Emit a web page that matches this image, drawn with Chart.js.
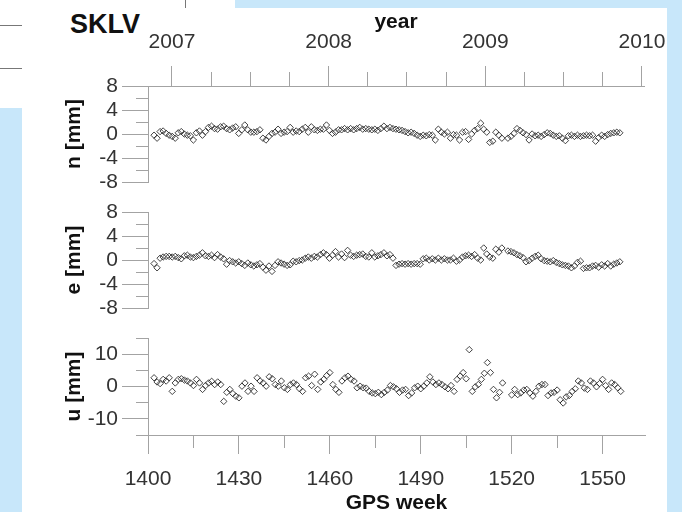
<!DOCTYPE html>
<html>
<head>
<meta charset="utf-8">
<script src="https://cdn.jsdelivr.net/npm/chart.js@4.4.1/dist/chart.umd.min.js"></script>
<style>
  body { margin: 0; width: 682px; height: 512px; background: #c8e7fa; position: relative; overflow: hidden;
         font-family: 'Liberation Sans', Arial, sans-serif; }
  .frag { position: absolute; left: 0; top: 0; width: 235px; height: 108px; background: #fff; }
  .panel { position: absolute; left: 22px; top: 8px; width: 645px; height: 504px; background: #fff; }
  .rule { position: absolute; background: #777; }
  canvas { position: absolute; left: 0; }
  #station { position: absolute; left: 70px; top: 11px; font-weight: bold; font-size: 27px; line-height: 26px; color: #111; }
</style>
</head>
<body>
<div class="frag"></div>
<div class="rule" style="left:0;top:25px;width:22px;height:1px"></div>
<div class="rule" style="left:0;top:68px;width:22px;height:1px"></div>
<div class="rule" style="left:185px;top:0;width:1px;height:8px"></div>
<div class="panel"></div>
<div id="station">SKLV</div>
<canvas id="cn" width="682" height="200" style="top:0"></canvas>
<canvas id="ce" width="682" height="140" style="top:190px"></canvas>
<canvas id="cu" width="682" height="192" style="top:320px"></canvas>

<script>
// GPS weeks 1402 .. 1556, one solution per week
const weeks = [];
for (let w = 1402; w <= 1556; w++) weeks.push(w);

// north residuals [mm]
const nVals = [
  -0.2, -0.7, 0.4, 0.5, 0.1, -0.2, -0.4, -0.7, 0.2, 0.4,
  0, -0.2, -0.3, -1.0, 0.2, 0.5, -0.2, 0.4, 1.1, 1.3,
  0.9, 0.8, 1.2, 1.3, 0.9, 0.7, 1.0, 1.2, 0.1, 0.7,
  1.5, 0.7, 0.3, 0.3, 0.4, 0.7, -0.7, -1.0, -0.4, 0.1,
  0.3, 0.8, 0.1, 0.3, 0.4, 1.1, 0.3, 0.5, 0.4, 0.8,
  1.1, 0.3, 1.2, 0.7, 0.6, 0.8, 0.8, 1.5, 0.6, 0.1,
  0.3, 0.7, 0.7, 0.9, 0.7, 0.9, 0.7, 0.9, 1.1, 0.8,
  0.9, 0.8, 0.7, 0.8, 0.6,
  0.9, 1.3, 0.9, 1.1, 0.9, 0.8, 0.7, 0.6, 0.4, 0.2,
  0.3, 0.1, -0.2, -0.4, -0.2, -0.3, -0.1, -0.2, -1.0, 0.8,
  0.3, 0, 0.3, -0.7, -0.1, -0.2, -1.0, 0.3, 0.4, -0.9,
  0, 0.6, 0.9, 1.8, 0.8, 0.3, -1.4, -1.2, 0.3, -0.2,
  -0.7, null, -0.7, -0.4, 0.1, 0.9, 0.6, 0.2, -0.1, -1.0,
  0, -0.3, -0.2, -0.4, -0.1, 0.2, 0.1, -0.2, -0.4, -0.3,
  -0.7, -1.1, -0.3, -0.2, -0.4, -0.2, -0.4, -0.3, -0.2, -0.3,
  -0.2, -1.2, -0.6, -0.2, -0.4, -0.1, 0.1, 0.2, 0.3, 0.2
];

// east residuals [mm]
const eVals = [
  -0.6, -1.3, 0.3, 0.5, 0.6, 0.6, 0.5, 0.6, 0.4, 0.2,
  0.7, 0.8, 0.5, 0.4, 0.6, 0.8, 1.2, 0.7, 0.6, 0.8,
  0.4, 0.9, 0.5, 0.2, -0.7, -0.1, -0.3, -0.5, -0.3, -0.6,
  -0.9, -0.5, -0.8, -1.0, -0.8, -0.6, -1.2, -1.7, -1.0, -1.9,
  -0.9, -0.3, -0.5, -0.7, -0.9, -0.8, -0.2, -0.3, -0.1, 0,
  0.3, 0.5, 0.3, 0.6, 0.5, 0.9, 1.2, 0.9, 0.3, 0.8,
  1.4, 0.5, 1.0, 0.4, 1.6, 0.8, 0.6, 0.8, 0.9, 1.0,
  0.6, 0.5, 1.2, 0.5, 0.7,
  0.9, 1.2, 0.7, 0.9, 0.3, -0.9, -0.7, -0.6, -0.7, -0.6,
  -0.7, -0.6, -0.6, -0.7, 0.2, 0.3, 0, 0.2, 0, 0.3,
  0, 0.2, 0, 0, 0.3, -0.2, 0, 0.5, 0.7, 0.8,
  0.6, 0.9, 0.3, 0, 2.0, 1.0, 0.5, 0.3, 1.8, 1.3,
  2.0, null, 1.5, 1.4, 1.2, 0.9, 0.7, 0.4, -0.3, -0.1,
  0.3, 0.6, 0.8, 0.2, -0.1, -0.2, -0.3, -0.1, -0.4, -0.6,
  -0.8, -0.9, -1.0, -1.3, -1.0, -0.4, -0.2, -1.4, -1.3, -1.3,
  -1.0, -0.9, -1.2, -0.8, -1.0, -0.6, -1.0, -0.7, -0.5, -0.3
];

// up residuals [mm]
const uVals = [
  2.7, 1.4, 0.9, 2.2, 1.7, 2.7, -1.5, 1.1, 2.2, 2.4,
  2.0, 1.7, 1.1, 0.3, 2.2, 1.1, -0.9, 0.3, 1.1, 1.6,
  0.6, 1.4, 0.6, -4.6, -1.8, -0.9, -2.2, -3.0, -3.5, 0.1,
  1.1, -1.5, 0.1, -1.5, 2.7, 1.7, 1.1, 0.1, 3.0, 2.4,
  0.6, 0.1, 1.7, -0.4, -0.9, 0.6, 1.1, 0.6, -0.7, -1.5,
  2.7, 3.2, 0.3, 3.8, -0.9, 1.4, 2.2, 3.4, 4.3, 0.6,
  -0.9, -1.8, 1.7, 2.7, 3.2, 2.2, 1.7, -0.4, 0.1, -0.4,
  -0.5, -1.5, -2.0, -2.2, -1.8,
  -2.5, -1.8, -1.1, 0.3, -0.1, -0.7, -1.8, -1.1, -0.9, -2.8,
  -2.0, -0.4, 0.1, -0.7, 0.1, 1.1, 3.0, 1.4, 0.6, 1.1,
  0.6, -0.1, -0.7, 0.3, -1.5, 2.2, 3.2, 4.3, 2.4, 11.4,
  -1.5, -0.1, 0.6, 2.2, 4.1, 7.4, 4.3, -0.9, -3.5, -1.8,
  1.1, null, null, -2.6, -0.9, -2.5, -2.0, -1.1, -0.9, -2.0,
  -3.0, -1.5, 0.1, 0.6, 0.6, -2.8, -2.0, -1.8, -1.1, -4.1,
  -5.1, -3.2, -2.8, -1.5, -0.7, 1.7, 1.1, -0.5, -0.9, 1.7,
  1.1, -0.1, 0.9, 2.2, 0.3, -0.9, 1.1, 0.6, -0.4, -1.5
];

// tick positions / labels
const nMajor = [-8, -4, 0, 4, 8];
const nMinor = [-6, -2, 2, 6];
const uMajor = [-10, 0, 10];
const uMinor = [-15, -5, 5, 15];
const weekMajor = [1400, 1430, 1460, 1490, 1520, 1550];
const weekMinor = [1415, 1445, 1475, 1505, 1535];
const yearMajor = [2007, 2008, 2009, 2010];
const yearMinor = [2007.25, 2007.5, 2007.75, 2008.25, 2008.5, 2008.75, 2009.25, 2009.5, 2009.75];

const weekRange = [1400, 1564];
const yearRange = [2006.847, 2010.013];

Chart.defaults.font.family = "'Liberation Sans', Arial, sans-serif";
Chart.defaults.color = '#333';

const axisGrey = '#a3a3a3';
const labelFont = { size: 21 };
const titleFont = { size: 21, weight: 'bold', lineHeight: 1 };

const setTicks = list => scale => { scale.ticks = list.map(v => ({ value: v })); };
const plain = v => String(v);

function points(vals) {
  return [{
    data: weeks.map((w, i) => ({ x: w, y: vals[i] })),
    xAxisID: 'x',
    yAxisID: 'y',
    pointStyle: 'rectRot',
    radius: 3.2,
    borderWidth: 1,
    borderColor: 'rgba(35,35,35,0.85)',
    backgroundColor: 'rgba(0,0,0,0)'
  }];
}

function valueAxes(range, major, minor, title) {
  return {
    y: {
      type: 'linear', axis: 'y', position: 'left',
      min: range[0], max: range[1],
      afterBuildTicks: setTicks(major),
      afterFit: s => { s.width = 148; },
      grid: { drawOnChartArea: false, tickLength: 26, color: axisGrey, tickColor: axisGrey },
      border: { color: axisGrey },
      ticks: { padding: 4, font: labelFont, color: '#333', autoSkip: false, callback: plain },
      title: { display: true, text: title, font: titleFont, color: '#111', padding: { top: 64, bottom: 0 } }
    },
    yMinor: {
      type: 'linear', axis: 'y', position: { x: weekRange[0] },
      min: range[0], max: range[1],
      afterBuildTicks: setTicks(minor),
      grid: { drawOnChartArea: false, tickLength: 12, color: axisGrey, tickColor: axisGrey },
      border: { display: false },
      ticks: { display: false }
    }
  };
}

function hiddenWeeks() {
  return { type: 'linear', axis: 'x', min: weekRange[0], max: weekRange[1], display: false };
}

function baseOptions(padding, scales) {
  return {
    responsive: false,
    animation: false,
    devicePixelRatio: 1,
    events: [],
    layout: { padding: padding },
    plugins: { legend: { display: false }, tooltip: { enabled: false } },
    scales: scales
  };
}

// n panel, with the year axis on top
new Chart(document.getElementById('cn'), {
  type: 'scatter',
  data: { datasets: points(nVals) },
  options: baseOptions({ left: 0, top: 0, right: 38, bottom: 18 }, Object.assign({
    x: hiddenWeeks(),
    yr: {
      type: 'linear', axis: 'x', position: 'top',
      min: yearRange[0], max: yearRange[1],
      afterBuildTicks: setTicks(yearMajor),
      afterFit: s => { s.height = 86; },
      grid: { drawOnChartArea: false, tickLength: 20, color: axisGrey, tickColor: axisGrey },
      border: { color: axisGrey },
      ticks: { padding: 11, font: labelFont, color: '#333', autoSkip: false, maxRotation: 0, callback: plain },
      title: { display: true, text: 'year', font: titleFont, color: '#111', padding: { top: 12, bottom: 0 } }
    },
    yrMinor: {
      type: 'linear', axis: 'x', position: { y: 8 },
      min: yearRange[0], max: yearRange[1],
      afterBuildTicks: setTicks(yearMinor),
      grid: { drawOnChartArea: false, tickLength: -14, color: axisGrey, tickColor: axisGrey },
      border: { display: false },
      ticks: { display: false }
    }
  }, valueAxes([-8, 8], nMajor, nMinor, 'n [mm]')))
});

// e panel
new Chart(document.getElementById('ce'), {
  type: 'scatter',
  data: { datasets: points(eVals) },
  options: baseOptions({ left: 0, top: 22, right: 38, bottom: 22 }, Object.assign({
    x: hiddenWeeks()
  }, valueAxes([-8, 8], nMajor, nMinor, 'e [mm]')))
});

// u panel, with the GPS week axis at the bottom
new Chart(document.getElementById('cu'), {
  type: 'scatter',
  data: { datasets: points(uVals) },
  options: baseOptions({ left: 0, top: 18, right: 37, bottom: 0 }, Object.assign({
    x: {
      type: 'linear', axis: 'x', position: 'bottom',
      min: weekRange[0], max: weekRange[1],
      afterBuildTicks: setTicks(weekMajor),
      afterFit: s => { s.height = 77; },
      grid: { drawOnChartArea: false, tickLength: 19, color: axisGrey, tickColor: axisGrey },
      border: { color: axisGrey },
      ticks: { padding: 13, font: labelFont, color: '#333', autoSkip: false, maxRotation: 0, callback: plain },
      title: { display: true, text: 'GPS week', font: { size: 21, weight: 'bold', lineHeight: 0.8 }, color: '#111', padding: { top: 0, bottom: 0 } }
    },
    xMinor: {
      type: 'linear', axis: 'x', position: { y: -15 },
      min: weekRange[0], max: weekRange[1],
      afterBuildTicks: setTicks(weekMinor),
      grid: { drawOnChartArea: false, tickLength: 13, color: axisGrey, tickColor: axisGrey },
      border: { display: false },
      ticks: { display: false }
    }
  }, valueAxes([-15, 15], uMajor, uMinor, 'u [mm]')))
});
</script>
</body>
</html>
